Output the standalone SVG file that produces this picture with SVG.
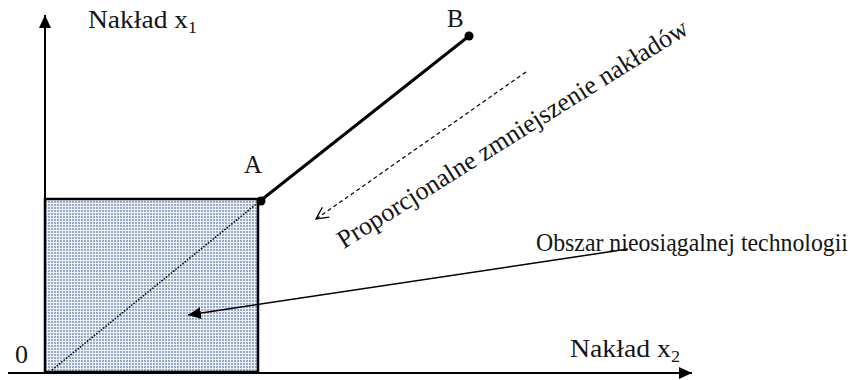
<svg xmlns="http://www.w3.org/2000/svg" width="854" height="380" viewBox="0 0 854 380">
<style>
text{font-family:"Liberation Serif","Times New Roman",serif;fill:#151515;}
.lbl{font-size:25px;}
.sub{font-size:17px;}
.ax{stroke:#000;stroke-width:2;fill:none;}
</style>
<defs>
<pattern id="dots" width="3" height="3" patternUnits="userSpaceOnUse">
<rect width="3" height="3" fill="#edf1f6"/>
<rect width="2" height="2" fill="#98abc7"/>
</pattern>
<marker id="solidHead" markerWidth="14" markerHeight="12" refX="13" refY="6" orient="auto" markerUnits="userSpaceOnUse">
<path d="M0,0 L13,6 L0,12 Z" fill="#000"/>
</marker>
<marker id="openHead" markerWidth="14" markerHeight="14" refX="13" refY="7" orient="auto" markerUnits="userSpaceOnUse">
<path d="M1,1 L13,7 L1,13" fill="none" stroke="#000" stroke-width="1.3"/>
</marker>
</defs>
<g id="region">
<rect x="45" y="199" width="213" height="173" fill="url(#dots)" stroke="#000" stroke-width="2.5"/>
</g>
<g id="connectors">
<line class="ax" x1="45" y1="374" x2="45" y2="15" marker-end="url(#solidHead)"/>
<line class="ax" x1="8" y1="373" x2="692" y2="373" marker-end="url(#solidHead)"/>
<line x1="52" y1="370" x2="260" y2="201" stroke="#000" stroke-width="1.5" stroke-dasharray="1.5 1.5"/>
<line x1="260" y1="201" x2="469" y2="36" stroke="#000" stroke-width="3"/>
<line x1="526" y1="72" x2="316" y2="219" stroke="#000" stroke-width="1.2" stroke-dasharray="4 3" marker-end="url(#openHead)"/>
<line x1="628" y1="249" x2="188" y2="315" stroke="#000" stroke-width="1.5" marker-end="url(#solidHead)"/>
</g>
<g id="pointA">
<circle cx="261" cy="201" r="4.5" fill="#000"/>
<text class="lbl" x="244" y="173">A</text>
</g>
<g id="pointB">
<circle cx="469" cy="36" r="4.5" fill="#000"/>
<text class="lbl" x="447" y="27">B</text>
</g>
<g id="labels">
<text class="lbl" x="88" y="28" style="font-size:26px" textLength="109" lengthAdjust="spacingAndGlyphs">Nakład x<tspan class="sub" dy="5">1</tspan></text>
<text class="lbl" x="570" y="357" style="font-size:26px" textLength="110" lengthAdjust="spacingAndGlyphs">Nakład x<tspan class="sub" dy="5">2</tspan></text>
<text class="lbl" x="15" y="363" style="font-size:26px">0</text>
<text class="lbl" x="536" y="251" textLength="312" lengthAdjust="spacingAndGlyphs">Obszar nieosiągalnej technologii</text>
<text class="lbl" text-anchor="middle" transform="translate(517,141) rotate(-32)" style="font-size:26px">Proporcjonalne zmniejszenie nakładów</text>
</g>
</svg>
